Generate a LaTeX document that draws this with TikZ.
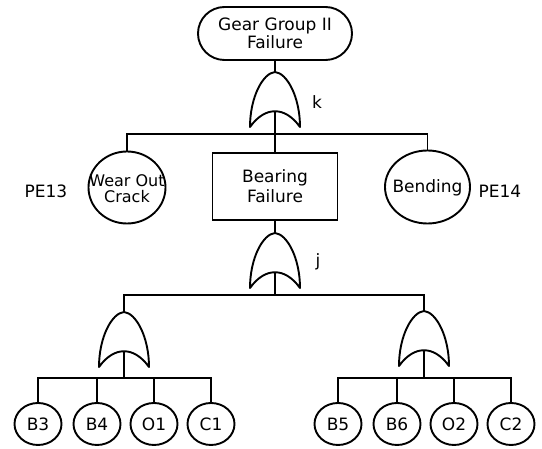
\documentclass[tikz,border=0pt]{standalone}
\usepackage{fontspec}
\setmainfont{DejaVu Sans}
\usetikzlibrary{shapes.geometric,shapes.misc}

\tikzset{
  % OR gate: pointed arch with a concave base; -in is the apex, -out the base peak
  orgate/.pic={
    \draw[line width=1.9pt, line join=round]
      (-25,55) .. controls (-25,25) and (-12,1) .. (0,0)
               .. controls (12,1) and (25,25) .. (25,55)
               .. controls (10,34) and (-10,34) .. cycle;
    \coordinate (-in) at (0,0);
    \coordinate (-out) at (0,39.25);
  },
  wire/.style={line width=1.9pt},
  event/.style={draw, ellipse, line width=1.9pt},
  basic/.style={draw, ellipse, line width=1.9pt, minimum width=47pt, minimum height=42pt},
  gatelabel/.style={font=\fontsize{17}{20}\selectfont},
}

\begin{document}
\begin{tikzpicture}[x=1pt, y=-1pt, line width=1.9pt,
  every node/.style={inner sep=0pt, font=\fontsize{17}{20}\selectfont}]
  \fill[white] (0,0) rectangle (542,449);
  \useasboundingbox (0,0) rectangle (542,449);

  % top event
  \node[draw, rounded rectangle, line width=1.9pt, minimum width=154pt, minimum height=53pt, align=center]
    (topev) at (275,33.5) {Gear Group II\\[-2pt]Failure};
  \pic (gk) at (275,72) {orgate};
  \coordinate (kbar) at (275,134);
  \node[gatelabel] (klab) at (317,102) {k};

  % second level
  \node[event, minimum width=77pt, minimum height=72pt] (wear) at (127,187.5) {};
  \node[align=center, font=\fontsize{16}{18}\selectfont] (weartext) at (127,189) {Wear Out\\[-2pt]Crack};
  \node[draw, rectangle, line width=1.9pt, minimum width=125pt, minimum height=67pt, align=center]
    (bear) at (275,186.5) {Bearing\\Failure};
  \node[event, minimum width=85pt, minimum height=73pt] (bend) at (427.5,187) {};
  \node (bendtext) at (427.5,188) {Bending};
  \node (pe13) at (46,191) {PE13};
  \node (pe14) at (500,191) {PE14};

  \draw[wire] (topev.south) -- (gk-in);
  \draw[wire] (gk-out) -- (kbar);
  \draw[wire] (wear.north) |- (kbar) -| (bend.north);
  \draw[wire] (kbar) -- (bear.north);

  % gate under the bearing failure
  \pic (gj) at (275,233) {orgate};
  \coordinate (jbar) at (275,295);
  \node[gatelabel] (jlab) at (318,262) {j};
  \draw[wire] (bear.south) -- (gj-in);
  \draw[wire] (gj-out) -- (jbar);

  % two lower gates
  \pic (gl) at (124,312) {orgate};
  \pic (gr) at (424,311) {orgate};
  \draw[wire] (gl-in) |- (jbar) -| (gr-in);
  \coordinate (lbar) at (124,378);
  \coordinate (rbar) at (424,378);
  \draw[wire] (gl-out) -- (lbar);
  \draw[wire] (gr-out) -- (rbar);

  % basic events
  \node[basic] (b3) at (38,424) {B3};
  \node[basic] (b4) at (97,424) {B4};
  \node[basic] (o1) at (154,424) {O1};
  \node[basic] (c1) at (211,424) {C1};
  \node[basic] (b5) at (338,424) {B5};
  \node[basic] (b6) at (397,424) {B6};
  \node[basic] (o2) at (454,424) {O2};
  \node[basic] (c2) at (511,424) {C2};

  \draw[wire] (b3.north) |- (lbar) -| (c1.north);
  \draw[wire] (b4.north) -- (b4.north |- lbar);
  \draw[wire] (o1.north) -- (o1.north |- lbar);
  \draw[wire] (b5.north) |- (rbar) -| (c2.north);
  \draw[wire] (b6.north) -- (b6.north |- rbar);
  \draw[wire] (o2.north) -- (o2.north |- rbar);
\end{tikzpicture}
\end{document}
